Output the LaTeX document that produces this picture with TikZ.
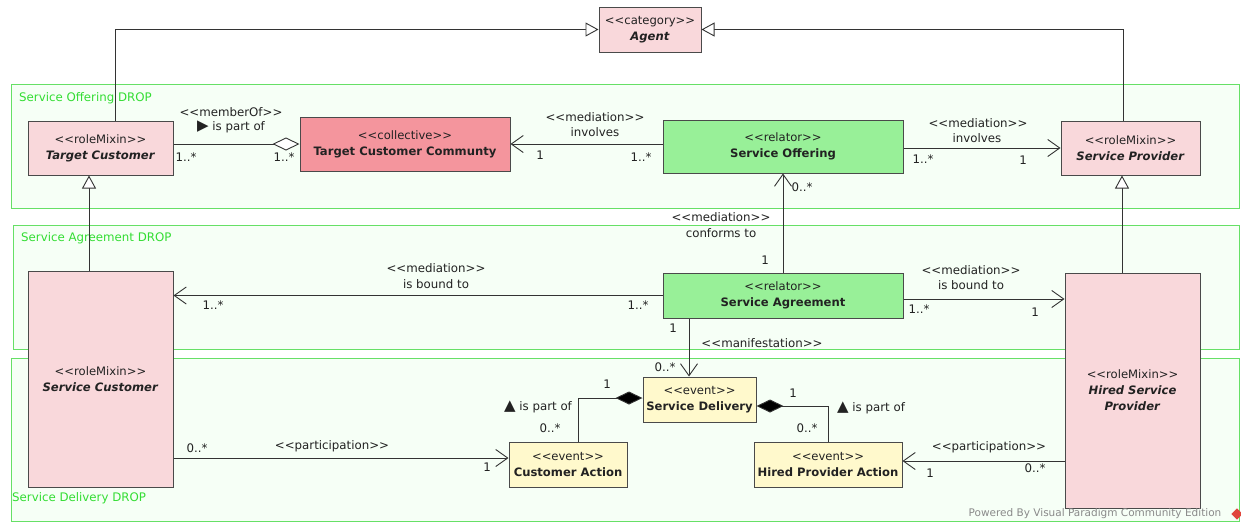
\documentclass[tikz,border=0pt]{standalone}
\usepackage{fontspec}
\setmainfont{DejaVu Sans}
\usetikzlibrary{arrows.meta}
\definecolor{rolepink}{HTML}{F9D8DB}
\definecolor{collred}{HTML}{F4959D}
\definecolor{relgreen}{HTML}{98F098}
\definecolor{evyellow}{HTML}{FFF9CC}
\definecolor{dropfill}{HTML}{F6FFF6}
\definecolor{dropline}{HTML}{66E066}
\definecolor{droptext}{HTML}{33DD33}
\definecolor{boxline}{HTML}{4A4A4A}
\definecolor{conn}{HTML}{333333}
\definecolor{txt}{HTML}{222222}
\definecolor{vpgray}{HTML}{8A8A8A}
\definecolor{vpred}{HTML}{E0463C}
\newcommand{\stereo}[1]{<{}<#1>{}>}
\newcommand{\cname}[1]{\textbf{\textit{#1}}}
\newcommand{\bigsym}[1]{{\fontsize{15}{13}\selectfont #1}}
\begin{document}
\begin{tikzpicture}[x=1pt,y=-1pt,
  font=\fontsize{11.6}{16}\selectfont,
  drop/.style={draw=dropline, fill=dropfill, line width=0.9pt},
  droplabel/.style={text=droptext, anchor=west, inner sep=0pt, font=\fontsize{11.8}{13}\selectfont},
  box/.style={draw=boxline, line width=1pt, align=center, inner sep=1pt, text=txt},
  role/.style={box, fill=rolepink},
  coll/.style={box, fill=collred},
  rel/.style={box, fill=relgreen},
  ev/.style={box, fill=evyellow},
  lbl/.style={text=txt, inner sep=0pt, font=\fontsize{11.8}{13}\selectfont},
  assoc/.style={draw=conn, line width=0.9pt, -{Straight Barb[length=12pt,width=17pt,line width=0.9pt]}},
  gen/.style={draw=conn, line width=0.9pt, -{Triangle[length=13pt,width=14pt,fill=white,line width=0.9pt]}},
  aggr/.style={draw=conn, line width=0.9pt, -{Diamond[length=27pt,width=13pt,fill=white,line width=0.9pt]}},
  compo/.style={draw=conn, line width=0.9pt, -{Diamond[length=27pt,width=13pt,fill=black,line width=0.9pt]}},
  compostart/.style={draw=conn, line width=0.9pt, {Diamond[length=27pt,width=13pt,fill=black,line width=0.9pt]}-}
]
\useasboundingbox[fill=white] (0,0) rectangle (1241,523);

% DROP regions
\draw[drop] (11,84) rectangle (1239,208);
\draw[drop] (13,225) rectangle (1239,349);
\draw[drop] (11,358) rectangle (1239,521);
\node[droplabel] (dl1) at (19,98) {Service Offering DROP};
\node[droplabel] (dl2) at (21,238) {Service Agreement DROP};
\node[droplabel] (dl3) at (12,498) {Service Delivery DROP};

% classes
\node[role, minimum width=102pt, minimum height=45pt] (agent) at (650,29.5) {\stereo{category}\\\cname{Agent}};
\node[role, minimum width=145pt, minimum height=54pt] (tc) at (100.5,148) {\stereo{roleMixin}\\\cname{Target Customer}};
\node[coll, minimum width=210pt, minimum height=54pt] (tcc) at (405,144) {\stereo{collective}\\\textbf{Target Customer Communty}};
\node[rel, minimum width=240pt, minimum height=53pt] (so) at (783,146.5) {\stereo{relator}\\\textbf{Service Offering}};
\node[role, minimum width=139pt, minimum height=54pt] (sp) at (1130.5,148) {\stereo{roleMixin}\\\cname{Service Provider}};
\node[role, minimum width=145pt, minimum height=216pt] (sc) at (100.5,379) {\stereo{roleMixin}\\\cname{Service Customer}};
\node[rel, minimum width=240pt, minimum height=45pt] (sa) at (783,295.5) {\stereo{relator}\\\textbf{Service Agreement}};
\node[role, minimum width=135pt, minimum height=235pt] (hsp) at (1132.5,390.5) {\stereo{roleMixin}\\\cname{Hired Service}\\\cname{Provider}};
\node[ev, minimum width=113pt, minimum height=45pt] (sd) at (699.5,399.5) {\stereo{event}\\\textbf{Service Delivery}};
\node[ev, minimum width=118pt, minimum height=45pt] (ca) at (568,464.5) {\stereo{event}\\\textbf{Customer Action}};
\node[ev, minimum width=148pt, minimum height=45pt] (hpa) at (828,464.5) {\stereo{event}\\\textbf{Hired Provider Action}};

% generalizations
\draw[gen] ([xshift=14.5pt]tc.north) |- (agent.west);
\draw[gen] ([xshift=-7.5pt]sp.north) |- (agent.east);
\draw[gen] ([xshift=-11.5pt]sc.north) -- ([xshift=-11.5pt]tc.south);
\draw[gen] ([xshift=-10.5pt]hsp.north) -- ([xshift=-10.5pt]hsp.north |- sp.south);

% memberOf
\draw[aggr] (tc.east |- tcc.west) -- (tcc.west);
\node[lbl] (l1a) at (231,112) {\stereo{memberOf}};
\node[lbl] (l1b) at (231,127) {\bigsym{▶} is part of};
\node[lbl] (m1a) at (186,157) {1..*};
\node[lbl] (m1b) at (284,157) {1..*};

% SO -> TCC
\draw[assoc] (so.west |- tcc.east) -- (tcc.east);
\node[lbl] (l2a) at (595,117) {\stereo{mediation}};
\node[lbl] (l2b) at (595,132) {involves};
\node[lbl] (m2a) at (540,155) {1};
\node[lbl] (m2b) at (641,157) {1..*};

% SO -> SP
\draw[assoc] (so.east |- sp.west) -- (sp.west);
\node[lbl] (l3a) at (978,123) {\stereo{mediation}};
\node[lbl] (l3b) at (977,138) {involves};
\node[lbl] (m3a) at (923,159) {1..*};
\node[lbl] (m3b) at (1023,160) {1};

% SA -> SO
\draw[assoc] (sa.north) -- (so.south);
\node[lbl] (l4a) at (721,217) {\stereo{mediation}};
\node[lbl] (l4b) at (721,233) {conforms to};
\node[lbl] (m4a) at (765,260) {1};
\node[lbl] (m4b) at (802,187) {0..*};

% SA -> SC
\draw[assoc] (sa.west) -- (sa.west -| sc.east);
\node[lbl] (l5a) at (436,268) {\stereo{mediation}};
\node[lbl] (l5b) at (436,284) {is bound to};
\node[lbl] (m5a) at (213,305) {1..*};
\node[lbl] (m5b) at (638,305) {1..*};

% SA -> HSP
\coordinate (p6) at ([yshift=-3.5pt]sa.east);
\draw[assoc] (p6) -- (p6 -| hsp.west);
\node[lbl] (l6a) at (971,270) {\stereo{mediation}};
\node[lbl] (l6b) at (971,285) {is bound to};
\node[lbl] (m6a) at (919,309) {1..*};
\node[lbl] (m6b) at (1035,312) {1};

% SA -> SD manifestation
\coordinate (p7) at ([xshift=-94pt]sa.south);
\draw[assoc] (p7) -- (p7 |- sd.north);
\node[lbl] (m7a) at (673,328) {1};
\node[lbl] (l7) at (762,343) {\stereo{manifestation}};
\node[lbl] (m7b) at (665,367) {0..*};

% CA - SD composition
\coordinate (p8) at ([yshift=1.5pt]sd.west);
\draw[compo] ([xshift=10pt]ca.north) |- (p8);
\node[lbl] (m8a) at (607,384) {1};
\node[lbl] (l8) at (538,407) {\bigsym{▲} is part of};
\node[lbl] (m8b) at (550,428) {0..*};

% HPA - SD composition
\coordinate (p9) at ([yshift=-6.5pt]sd.east);
\draw[compostart] (p9) -| (hpa.north);
\node[lbl] (m9a) at (793,393) {1};
\node[lbl] (m9b) at (807,428) {0..*};
\node[lbl] (l9) at (871,408) {\bigsym{▲} is part of};

% SC -> CA participation
\coordinate (p10) at ([yshift=6.5pt]ca.west);
\draw[assoc] (p10 -| sc.east) -- (p10);
\node[lbl] (m10a) at (197,448) {0..*};
\node[lbl] (l10) at (332,446) {\stereo{participation}};
\node[lbl] (m10b) at (487,467) {1};

% HSP -> HPA participation
\coordinate (p11) at ([yshift=3.5pt]hpa.east);
\draw[assoc] (p11 -| hsp.west) -- (p11);
\node[lbl] (l11) at (989,447) {\stereo{participation}};
\node[lbl] (m11a) at (930,473) {1};
\node[lbl] (m11b) at (1035,468) {0..*};

% footer
\node[text=vpgray, inner sep=0pt, font=\fontsize{10.5}{12}\selectfont] (vp) at (1095,514) {Powered By Visual Paradigm Community Edition};
\node[fill=vpred, rotate=45, minimum size=8pt, inner sep=0pt] (vplogo) at (1237,514) {};
\end{tikzpicture}
\end{document}
